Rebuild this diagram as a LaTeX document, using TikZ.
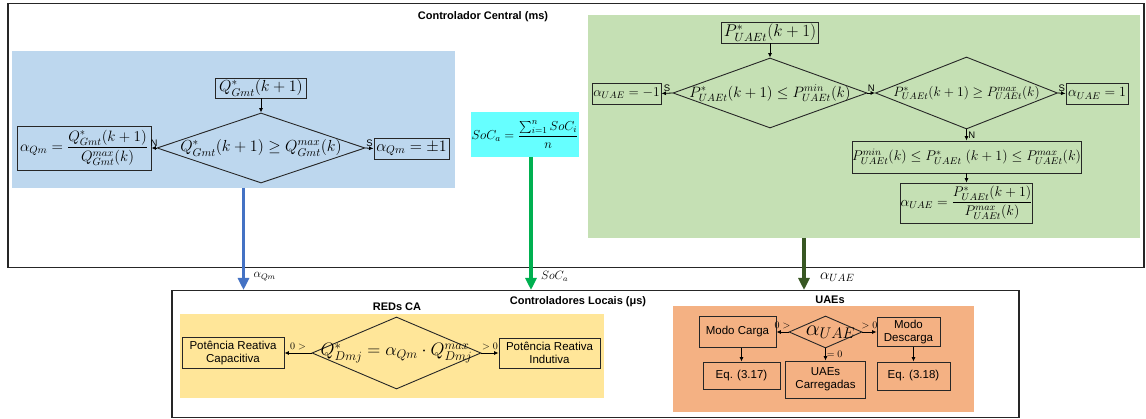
\RequirePackage{fix-cm}
\documentclass[tikz,border=0pt]{standalone}
\usepackage{amsmath}
\usepackage{fontspec}
\setmainfont{Liberation Sans}
\usepackage{tikz}
\usetikzlibrary{positioning, shapes.geometric, arrows.meta, calc}

\definecolor{zoneblue}{RGB}{189,215,238}
\definecolor{zonecyan}{RGB}{102,255,255}
\definecolor{zonegreen}{RGB}{197,224,180}
\definecolor{zoneyellow}{RGB}{255,230,153}
\definecolor{zoneorange}{RGB}{244,177,131}
\definecolor{arrowblue}{RGB}{68,114,196}
\definecolor{arrowgreen}{RGB}{0,176,80}
\definecolor{arrowdkgreen}{RGB}{56,87,35}

\tikzset{
  zone/.style={draw=none, inner sep=0pt, anchor=north west},
  outerframe/.style={draw=black!85, line width=1.5pt, inner sep=0pt, anchor=north west},
  mbox/.style={draw=black!85, line width=0.9pt, inner sep=0pt, align=center},
  decision/.style={diamond, draw=black!85, line width=0.9pt, inner sep=0pt},
  flow/.style={line width=0.8pt, -{Latex[length=4.5pt,width=4pt]}},
  flag/.style={font=\fontsize{9.5}{10}\selectfont, inner sep=1.5pt},
  cond/.style={font=\fontsize{10}{11}\selectfont, inner sep=2.5pt},
  heading/.style={font=\fontsize{11}{12}\selectfont\bfseries},
  bigarrow/.style={line width=3.5pt, -{Triangle[length=12pt,width=11pt]}},
}

\begin{document}
\begin{tikzpicture}[x=1pt, y=-1pt]
\useasboundingbox (0,0) rectangle (1146,419);

%% controlador central
\node[outerframe, minimum width=1136, minimum height=264] (central) at (7,3) {};
\node[heading] (centralTitle) at (483,17) {Controlador Central (ms)};

\node[zone, fill=zoneblue, minimum width=443, minimum height=137] (zoneQ) at (12,51) {};
\node[zone, fill=zonegreen, minimum width=552, minimum height=223] (zoneUAE) at (588,15) {};

% reativo
\node[mbox, minimum width=91, minimum height=20, font=\fontsize{16}{18}\selectfont] (qIn) at (261,88) {$Q^{*}_{Gmt}(k+1)$};
\node[decision, minimum width=208, minimum height=70] (dQ) at (261,148) {};
\node[font=\fontsize{16}{18}\selectfont] (dQtext) at (dQ) {$Q^{*}_{Gmt}(k+1) \geq Q^{max}_{Gmt}(k)$};
\node[mbox, minimum width=134, minimum height=44, font=\fontsize{15}{17}\selectfont] (aQn) at (84,148) {$\alpha_{Qm} = \dfrac{Q^{*}_{Gmt}(k+1)}{Q^{max}_{Gmt}(k)}$};
\node[mbox, minimum width=75, minimum height=21, font=\fontsize{16}{18}\selectfont] (aQs) at (411.5,148.5) {$\alpha_{Qm} = \pm 1$};

\draw[flow] (qIn) -- (dQ);
\draw[flow] (dQ.west) -- node[flag, above] (nQ) {N} (aQn.east);
\draw[flow] (dQ.east) -- node[flag, above] (sQ) {S} (aQs.west);

% estado de carga
\node[fill=zonecyan, inner sep=0pt, minimum width=108, minimum height=45, font=\fontsize{13}{15}\selectfont] (socA) at (525,134.5) {$SoC_a = \dfrac{\sum_{i=1}^{n} SoC_i}{n}$};

% UAEs
\pgfmathsetmacro{\colR}{966.5}
\node[mbox, minimum width=97, minimum height=21, font=\fontsize{17}{19}\selectfont] (pIn) at (770,32.5) {$P^{*}_{UAEt}(k+1)$};
\node[decision, minimum width=194, minimum height=70] (dMin) at (770,93) {};
\node[font=\fontsize{15}{17}\selectfont] (dMintext) at (dMin) {$P^{*}_{UAEt}(k+1) \leq P^{min}_{UAEt}(k)$};
\node[decision, minimum width=182, minimum height=72] (dMax) at (\colR,93) {};
\node[font=\fontsize{13.5}{15}\selectfont] (dMaxtext) at (dMax) {$P^{*}_{UAEt}(k+1) \geq P^{max}_{UAEt}(k)$};
\node[mbox, minimum width=69, minimum height=21, font=\fontsize{13.5}{15}\selectfont] (aNeg) at (626.5,93.5) {$\alpha_{UAE} = -1$};
\node[mbox, minimum width=62, minimum height=21, font=\fontsize{14}{16}\selectfont] (aPos) at (1097,93.5) {$\alpha_{UAE} = 1$};
\node[mbox, minimum width=227, minimum height=32, font=\fontsize{14}{16}\selectfont] (pRange) at (\colR,157) {$P^{min}_{UAEt}(k) \leq P^{*}_{UAEt}\ (k+1) \leq P^{max}_{UAEt}(k)$};
\node[mbox, minimum width=130, minimum height=40, font=\fontsize{14}{16}\selectfont] (aFrac) at (\colR,203) {$\alpha_{UAE} = \dfrac{P^{*}_{UAEt}(k+1)}{P^{max}_{UAEt}(k)}$};

\draw[flow] (pIn) -- (dMin);
\draw[flow] (dMin.west) -- node[flag, above] (sMin) {S} (aNeg.east);
\draw[flow] (dMin.east) -- node[flag, above] (nMin) {N} (dMax.west);
\draw[flow] (dMax.east) -- node[flag, above] (sMax) {S} (aPos.west);
\draw[flow] (dMax.south) -- node[flag, right] (nMax) {N} (pRange.north);
\draw[flow] (pRange) -- (aFrac);

%% controladores locais
\node[outerframe, minimum width=847, minimum height=127] (local) at (171,290) {};
\node[heading] (localTitle) at (578,302) {Controladores Locais (μs)};

\node[zone, fill=zoneyellow, minimum width=424, minimum height=84] (zoneRED) at (180,314) {};
\node[zone, fill=zoneorange, minimum width=301, minimum height=106] (zoneBat) at (673,306) {};
\node[heading] (redTitle) at (397,307) {REDs CA};
\node[heading] (batTitle) at (830,300) {UAEs};

% REDs CA
\node[mbox, minimum width=102, minimum height=31, font=\fontsize{11.5}{13}\selectfont] (capBox) at (233,353) {Potência Reativa\\Capacitiva};
\node[decision, minimum width=169, minimum height=72] (dRED) at (396.5,353) {};
\node[font=\fontsize{18}{20}\selectfont] (dREDtext) at (dRED) {$Q^{*}_{Dmj} = \alpha_{Qm} \cdot Q^{max}_{Dmj}$};
\node[mbox, minimum width=101, minimum height=30, font=\fontsize{11.5}{13}\selectfont] (indBox) at (549.5,353) {Potência Reativa\\Indutiva};

\draw[flow] (dRED.west) -- node[cond, above] (lRED1) {$0>$} (capBox.east);
\draw[flow] (dRED.east) -- node[cond, above] (lRED2) {$>0$} (indBox.west);

% UAEs locais
\node[mbox, minimum width=77, minimum height=31, font=\fontsize{11.5}{13}\selectfont] (modeC) at (737.5,332) {Modo Carga};
\node[decision, minimum width=73, minimum height=32] (dBat) at (825.5,332) {};
\node[font=\fontsize{22}{24}\selectfont, xshift=5pt] (dBattext) at (dBat) {$\alpha_{UAE}$};
\node[mbox, minimum width=63, minimum height=29, font=\fontsize{11.5}{13}\selectfont] (modeD) at (908.5,332) {Modo\\Descarga};
\node[mbox, minimum width=77, minimum height=27, font=\fontsize{11.5}{13}\selectfont] (eqC) at (741.5,375.5) {Eq. (3.17)};
\node[mbox, minimum width=80, minimum height=37, font=\fontsize{11.5}{13}\selectfont] (fullBox) at (825.5,379.5) {UAEs\\Carregadas};
\node[mbox, minimum width=73, minimum height=28, font=\fontsize{11.5}{13}\selectfont] (eqD) at (913.5,376) {Eq. (3.18)};

\draw[flow] (dBat.west) -- node[cond, above] (lBat1) {$0>$} (modeC.east);
\draw[flow] (dBat.east) -- node[cond, above] (lBat2) {$>0$} (modeD.west);
\draw[flow] (dBat.south) -- node[cond, right, inner sep=1pt] (lBat3) {$=0$} (fullBox.north);
\draw[flow] (eqC.north |- modeC.south) -- (eqC.north);
\draw[flow] (eqD.north |- modeD.south) -- (eqD.north);

%% sinais enviados
\coordinate (qmOut) at (243.5,188);
\coordinate (socOut) at (531,157);
\coordinate (uaeOut) at (804,238);
\draw[bigarrow, arrowblue] (qmOut) -- node[pos=0.87, right=5pt, text=black, font=\fontsize{12}{13}\selectfont] (lblQm) {$\alpha_{Qm}$} (qmOut |- local.north);
\draw[bigarrow, arrowgreen] (socOut) -- node[pos=0.9, right=5pt, text=black, font=\fontsize{12}{13}\selectfont] (lblSoC) {$SoC_a$} (socOut |- local.north);
\draw[bigarrow, arrowdkgreen] (uaeOut) -- node[pos=0.75, right=11pt, text=black, font=\fontsize{15}{16}\selectfont] (lblUAE) {$\alpha_{UAE}$} (uaeOut |- local.north);
\end{tikzpicture}
\end{document}
